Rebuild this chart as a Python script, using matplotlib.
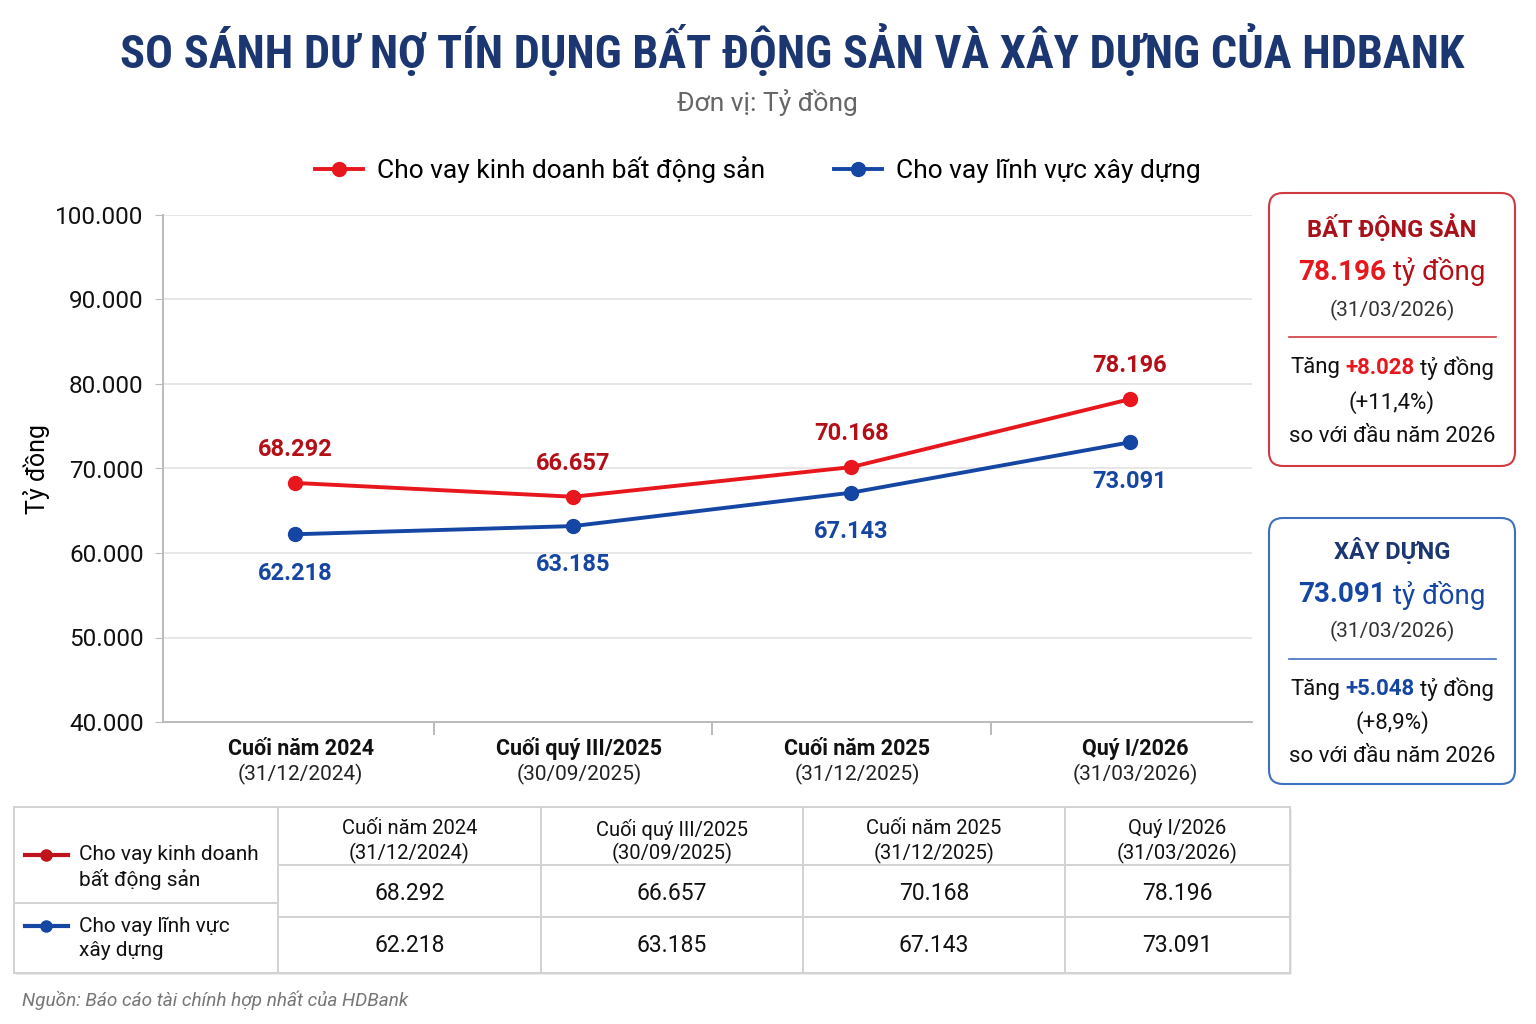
import numpy as np
import matplotlib
matplotlib.use('Agg')
import matplotlib.pyplot as plt
from matplotlib import font_manager
from matplotlib.patches import FancyBboxPatch, Rectangle
from matplotlib.ticker import FuncFormatter, FixedLocator

plt.rcParams['font.family'] = ['Roboto', 'DejaVu Sans']

# data
periods = ['Cuối năm 2024', 'Cuối quý III/2025', 'Cuối năm 2025', 'Quý I/2026']
dates = ['(31/12/2024)', '(30/09/2025)', '(31/12/2025)', '(31/03/2026)']
bds = [68292, 66657, 70168, 78196]      # cho vay kinh doanh bat dong san
xd = [62218, 63185, 67143, 73091]       # cho vay linh vuc xay dung
series_names = ['Cho vay kinh doanh bất động sản', 'Cho vay lĩnh vực xây dựng']
yticks = [40000, 50000, 60000, 70000, 80000, 90000, 100000]
# side boxes, as printed on the chart
box_heads = ['BẤT ĐỘNG SẢN', 'XÂY DỰNG']
box_values = [78196, 73091]
box_increase = [8028, 5048]
box_pct = ['(+11,4%)', '(+8,9%)']

RED = '#e8161d'
DRED = '#b40f17'
BLUE = '#1646a3'
NAVY = '#1b3670'
GRID = '#e3e3e3'


def fmt(v):
    return f'{v:,}'.replace(',', '.')


W, H = 1536, 1024
fig = plt.figure(figsize=(W / 100, H / 100), dpi=100)
fig.patch.set_facecolor('white')

# pixel canvas for everything outside the plot
cv = fig.add_axes([0, 0, 1, 1])
cv.set_xlim(0, W)
cv.set_ylim(H, 0)
cv.axis('off')

ax = fig.add_axes([163 / W, 1 - 722 / H, (1252 - 163) / W, (722 - 215) / H])
ax.set_facecolor('none')
x = np.arange(len(periods))
l1, = ax.plot(x, bds, color=RED, lw=2.8, marker='o', ms=10, zorder=3)
l2, = ax.plot(x, xd, color=BLUE, lw=2.8, marker='o', ms=10, zorder=3)
ax.set_xlim(-0.475, 3.44)
ax.set_ylim(40000, 100000)
ax.yaxis.set_major_locator(FixedLocator(yticks))
ax.yaxis.set_major_formatter(FuncFormatter(lambda v, p: fmt(int(v))))
ax.tick_params(axis='y', labelsize=17.5, length=6, color='#bbbbbb', pad=8, labelcolor='#111111')
ax.grid(axis='y', color=GRID, lw=1.2)
ax.set_axisbelow(True)
for s in ['top', 'right']:
    ax.spines[s].set_visible(False)
for s in ['left', 'bottom']:
    ax.spines[s].set_color('#bbbbbb')
    ax.spines[s].set_linewidth(1.4)
ax.set_xticks(x)
ax.set_xticklabels([])
ax.tick_params(axis='x', length=0)
ax.set_xticks([0.5, 1.5, 2.5], minor=True)
ax.tick_params(axis='x', which='minor', length=9, color='#bbbbbb', width=1.4)
ax.set_ylabel('Tỷ đồng', fontsize=18, labelpad=4)

for i in x:
    ax.annotate(fmt(bds[i]), (i, bds[i]), xytext=(0, 24), textcoords='offset points',
                ha='center', va='center', fontsize=17, fontweight='bold', color=DRED)
    ax.annotate(fmt(xd[i]), (i, xd[i]), xytext=(0, -28), textcoords='offset points',
                ha='center', va='center', fontsize=17, fontweight='bold', color=BLUE)
    ax.text(i + 0.02, -0.053, periods[i], transform=ax.get_xaxis_transform(), ha='center',
            va='center', fontsize=15.5, fontweight='bold', color='#111111')
    ax.text(i + 0.02, -0.103, dates[i], transform=ax.get_xaxis_transform(), ha='center',
            va='center', fontsize=15, color='#222222')

leg = fig.legend([l1, l2], series_names, loc='center', bbox_to_anchor=(758 / W, 1 - 170 / H),
                 ncol=2, frameon=False, fontsize=19, handlelength=1.8, columnspacing=2.6,
                 handletextpad=0.55)

# title
names = {f.name for f in font_manager.fontManager.ttflist}
tfam = ['Roboto Condensed', 'Roboto'] if 'Roboto Condensed' in names else ['Roboto']
renderer = fig.canvas.get_renderer()
title = cv.text(792, 50, 'SO SÁNH DƯ NỢ TÍN DỤNG BẤT ĐỘNG SẢN VÀ XÂY DỰNG CỦA HDBANK',
                ha='center', va='center', fontsize=30, fontweight='bold', color=NAVY,
                family=tfam, fontstretch='condensed')
tw = title.get_window_extent(renderer).width
title.set_fontsize(min(34, 30 * 1345 / tw))
cv.text(767, 102, 'Đơn vị: Tỷ đồng', ha='center', va='center', fontsize=19, color='#666666')


def rich_line(xc, y, parts, size, gap=6):
    objs, widths = [], []
    for txt, col, wt in parts:
        t = cv.text(0, y, txt, color=col, fontweight=wt, fontsize=size, ha='left', va='center')
        objs.append(t)
        widths.append(t.get_window_extent(renderer).width)
    total = sum(widths) + gap * (len(parts) - 1)
    xx = xc - total / 2
    for t, w in zip(objs, widths):
        t.set_x(xx)
        xx += w + gap


# side boxes
styles = [
    dict(y0=193, y1=466, edge='#d03a3f', hcol='#a8111a', vcol=RED, ucol=DRED,
         ys=[228, 272, 310, 337, 368, 403, 437]),
    dict(y0=518, y1=784, edge='#3f6fbf', hcol=NAVY, vcol=BLUE, ucol=BLUE,
         ys=[551, 595, 631, 659, 689, 723, 757]),
]
bx0, bx1 = 1269, 1515
bxc = (bx0 + bx1) / 2
for k, b in enumerate(styles):
    cv.add_patch(FancyBboxPatch((bx0, b['y0']), bx1 - bx0, b['y1'] - b['y0'],
                                boxstyle='round,pad=0,rounding_size=14', fc='white',
                                ec=b['edge'], lw=1.5))
    ys = b['ys']
    cv.text(bxc, ys[0], box_heads[k], ha='center', va='center', fontsize=17, fontweight='bold', color=b['hcol'])
    rich_line(bxc, ys[1], [(fmt(box_values[k]), b['vcol'], 'bold'), ('tỷ đồng', b['ucol'], 'normal')], 20, gap=7)
    cv.text(bxc, ys[2], dates[-1], ha='center', va='center', fontsize=15, color='#333333')
    cv.plot([1289, 1496], [ys[3], ys[3]], color=b['edge'], lw=1.2)
    rich_line(bxc, ys[4], [('Tăng', '#111111', 'normal'), ('+' + fmt(box_increase[k]), b['vcol'], 'bold'),
                           ('tỷ đồng', '#111111', 'normal')], 16, gap=5)
    cv.text(bxc, ys[5], box_pct[k], ha='center', va='center', fontsize=16, color='#111111')
    cv.text(bxc, ys[6], 'so với đầu năm 2026', ha='center', va='center', fontsize=16, color='#111111')

# table
cols = [14, 278, 541, 803, 1065, 1290]
rows = [807, 865, 917, 973]
TL = '#d2d2d2'
cv.add_patch(Rectangle((cols[0] + 2, rows[0] + 2), cols[-1] - cols[0], rows[-1] - rows[0],
                       fc='#ececec', ec='none', zorder=0))
cv.add_patch(Rectangle((cols[0], rows[0]), cols[-1] - cols[0], rows[-1] - rows[0],
                       fc='white', ec=TL, lw=1.4, zorder=1))
for c in cols[1:-1]:
    cv.plot([c, c], [rows[0], rows[-1]], color=TL, lw=1.4, zorder=2)
for r in rows[1:3]:
    cv.plot([cols[1], cols[-1]], [r, r], color=TL, lw=1.4, zorder=2)
cv.plot([cols[0], cols[1]], [903, 903], color=TL, lw=1.4, zorder=2)
for j in range(4):
    xc = (cols[j + 1] + cols[j + 2]) / 2
    cv.text(xc, 829, periods[j], ha='center', va='center', fontsize=14.5, color='#111111', zorder=3)
    cv.text(xc, 853, dates[j], ha='center', va='center', fontsize=14.5, color='#111111', zorder=3)
    cv.text(xc, 894, fmt(bds[j]), ha='center', va='center', fontsize=16.5, color='#111111', zorder=3)
    cv.text(xc, 946, fmt(xd[j]), ha='center', va='center', fontsize=16.5, color='#111111', zorder=3)

row_labels = [('Cho vay kinh doanh', 'bất động sản'), ('Cho vay lĩnh vực', 'xây dựng')]
row_cols = ['#c0141c', BLUE]
row_y = [855, 926]
for lab, col, yy in zip(row_labels, row_cols, row_y):
    cv.plot([25, 68], [yy, yy], color=col, lw=3, zorder=3)
    cv.plot([46], [yy], marker='o', ms=8, color=col, zorder=4)
    cv.text(79, yy, lab[0], ha='left', va='center', fontsize=15, color='#111111', zorder=3)
    cv.text(79, yy + 25, lab[1], ha='left', va='center', fontsize=15, color='#111111', zorder=3)

cv.text(22, 1000, 'Nguồn: Báo cáo tài chính hợp nhất của HDBank', ha='left', va='center',
        fontsize=13.7, style='italic', color='#777777')

fig.savefig('out.png', dpi=100, facecolor='white')
